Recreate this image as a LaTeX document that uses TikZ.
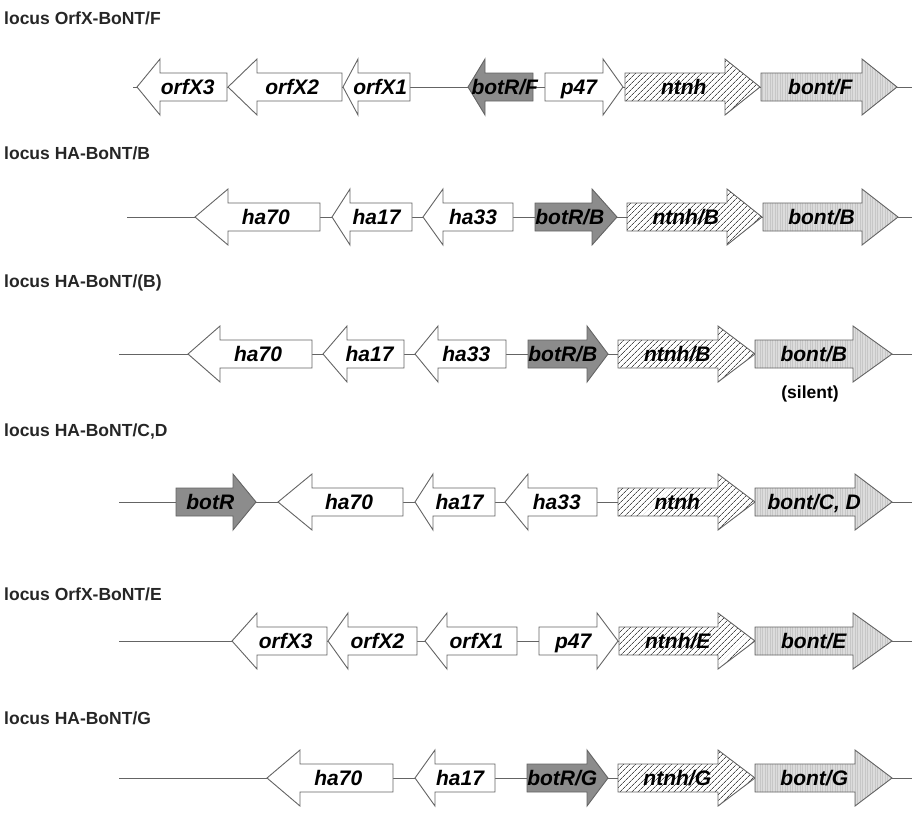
\documentclass[tikz,border=0pt]{standalone}
\usepackage{fontspec}
\setmainfont{Liberation Sans}
\usepackage{tikz}
\usetikzlibrary{positioning,patterns.meta}
\definecolor{genegrey}{RGB}{100,100,100}
\definecolor{botrfill}{RGB}{140,140,140}
\definecolor{bontfill}{RGB}{220,220,220}

% gene arrow: name, style, x body end, x head base, x tip, y, label
\newcommand{\gene}[7]{%
  \path[#2] ({#3},{#6-14}) -- ({#4},{#6-14}) -- ({#4},{#6-28}) -- ({#5},{#6})
    -- ({#4},{#6+28}) -- ({#4},{#6+14}) -- ({#3},{#6+14}) -- cycle;
  \node[genelab] (#1) at ({(2*#3+#4+#5)/4},{#6+7.5}) {#7};}

\begin{document}
\begin{tikzpicture}[
    x=1pt, y=-1pt,
    gbase/.style={draw=genegrey, line width=0.9pt, line join=miter},
    plaingene/.style={gbase, fill=white},
    botrgene/.style={gbase, fill=botrfill},
    ntnhgene/.style={gbase, preaction={fill=white},
        pattern={Lines[angle=45, distance=4pt, line width=0.7pt]}, pattern color=black!70},
    bontgene/.style={gbase, preaction={fill=bontfill},
        pattern={Lines[angle=90, distance=2.5pt, line width=0.3pt]}, pattern color=black!22},
    backbone/.style={draw=genegrey, line width=0.9pt},
    genelab/.style={font=\fontsize{21}{23}\selectfont\bfseries\itshape, inner sep=0pt, anchor=base},
    locuslab/.style={font=\fontsize{17.5}{20}\selectfont\bfseries, text=black!85, anchor=west, inner sep=0pt},
]
    \useasboundingbox (0,0) rectangle (912,814);
    % locus titles
    \node[locuslab] (t1) at (4,18) {locus OrfX-BoNT/F};
    \node[locuslab] (t2) at (4,153) {locus HA-BoNT/B};
    \node[locuslab] (t3) at (4,283) {locus HA-BoNT/(B)};
    \node[locuslab] (t4) at (4,432) {locus HA-BoNT/C,D};
    \node[locuslab] (t5) at (4,594) {locus OrfX-BoNT/E};
    \node[locuslab] (t6) at (4,718) {locus HA-BoNT/G};
    % backbones
    \foreach \r/\xs/\yy in {1/133/87, 2/127/217, 3/119/354, 4/119/502, 5/119/641, 6/119/778} {
        \coordinate (r\r a) at (\xs,\yy);
        \coordinate (r\r b) at (912,\yy);
        \draw[backbone] (r\r a) -- (r\r b);
    }
    % locus OrfX-BoNT/F
    \gene{f-x3}{plaingene}{227}{160}{137}{87}{orfX3}
    \gene{f-x2}{plaingene}{342}{257}{228}{87}{orfX2}
    \gene{f-x1}{plaingene}{410}{358}{343}{87}{orfX1}
    \gene{f-r}{botrgene}{533}{485}{468}{87}{botR/F}
    \gene{f-p}{plaingene}{545}{603}{623}{87}{p47}
    \gene{f-n}{ntnhgene}{625}{725}{760}{87}{ntnh}
    \gene{f-b}{bontgene}{761}{862}{897}{87}{bont/F}
    % locus HA-BoNT/B
    \gene{b-70}{plaingene}{320}{228}{195}{217}{ha70}
    \gene{b-17}{plaingene}{412}{350}{332}{217}{ha17}
    \gene{b-33}{plaingene}{513}{443}{423}{217}{ha33}
    \gene{b-r}{botrgene}{535}{592}{617}{217}{botR/B}
    \gene{b-n}{ntnhgene}{627}{727}{762}{217}{ntnh/B}
    \gene{b-b}{bontgene}{763}{862}{898}{217}{bont/B}
    % locus HA-BoNT/(B)
    \gene{sb-70}{plaingene}{312}{220}{188}{354}{ha70}
    \gene{sb-17}{plaingene}{404}{347}{323}{354}{ha17}
    \gene{sb-33}{plaingene}{506}{438}{415}{354}{ha33}
    \gene{sb-r}{botrgene}{528}{587}{608}{354}{botR/B}
    \gene{sb-n}{ntnhgene}{618}{718}{755}{354}{ntnh/B}
    \gene{sb-b}{bontgene}{755}{853}{892}{354}{bont/B}
    \node[font=\fontsize{17.5}{20}\selectfont\bfseries, inner sep=0pt] (silent) at (810,394) {(silent)};
    % locus HA-BoNT/C,D
    \gene{cd-r}{botrgene}{176}{233}{256}{502}{botR}
    \gene{cd-70}{plaingene}{403}{312}{278}{502}{ha70}
    \gene{cd-17}{plaingene}{495}{433}{415}{502}{ha17}
    \gene{cd-33}{plaingene}{597}{528}{505}{502}{ha33}
    \gene{cd-n}{ntnhgene}{618}{718}{755}{502}{ntnh}
    \gene{cd-b}{bontgene}{755}{855}{892}{502}{bont/C, D}
    % locus OrfX-BoNT/E
    \gene{e-x3}{plaingene}{327}{257}{232}{641}{orfX3}
    \gene{e-x2}{plaingene}{417}{348}{328}{641}{orfX2}
    \gene{e-x1}{plaingene}{517}{447}{425}{641}{orfX1}
    \gene{e-p}{plaingene}{539}{597}{618}{641}{p47}
    \gene{e-n}{ntnhgene}{619}{718}{755}{641}{ntnh/E}
    \gene{e-b}{bontgene}{755}{853}{892}{641}{bont/E}
    % locus HA-BoNT/G
    \gene{g-70}{plaingene}{393}{300}{267}{778}{ha70}
    \gene{g-17}{plaingene}{495}{435}{415}{778}{ha17}
    \gene{g-r}{botrgene}{527}{587}{608}{778}{botR/G}
    \gene{g-n}{ntnhgene}{618}{718}{755}{778}{ntnh/G}
    \gene{g-b}{bontgene}{755}{855}{892}{778}{bont/G}
\end{tikzpicture}
\end{document}
